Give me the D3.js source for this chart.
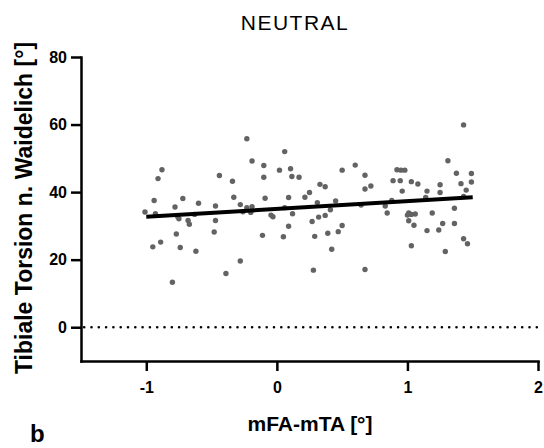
<!DOCTYPE html>
<html lang="de">
<head>
    <meta charset="UTF-8">
    <title>NEUTRAL</title>
    <script src="https://d3js.org/d3.v7.min.js"></script>
    <style>
        body { margin: 0; background: #fff; }
        svg { display: block; font-family: "Liberation Sans", Arial, sans-serif; }
        .axis path, .axis line { stroke: #000; stroke-width: 2.5; }
        .axis text { font-size: 16px; font-weight: bold; fill: #000; }
    </style>
</head>
<body>
    <svg width="544" height="448"></svg>
    <script>
        // mFA-mTA [°] values (x) and tibial torsion [°] values (y)
        const mfaMta = [
            -0.23, -0.19, -0.10, -0.10, -0.88, -0.91, -0.44, -0.34, -0.33, -0.09,
            -0.94, -0.72, -0.78, -0.60, -0.47, -0.28, -0.23, -0.19, -0.26, -0.20,
            -1.01, -0.93, -0.76, -0.75, -0.63, -0.68, -0.67, -0.47, -0.77, -0.48,
            -0.11, -0.95, -0.89, -0.74, -0.62, -0.28, -0.39, -0.80,
            0.06, 0.02, 0.105, 0.115, 0.17, 0.09, 0.215, 0.25, 0.33, 0.37,
            0.50, 0.60, 0.675, 0.675, 0.72, 0.31, 0.45, 0.06, -0.045, -0.03,
            0.12, 0.32, 0.37, 0.41, 0.27, 0.645, 0.83, 0.845, 0.88, 0.89,
            0.92, 0.09, 0.50, 0.05, 0.29, 0.39, 0.47, 0.42, 0.28, 0.675,
            1.43, 1.31, 0.95, 0.98, 0.945, 1.03, 1.08, 0.96, 1.15, 1.25,
            1.25, 1.375, 1.49, 1.41, 1.49, 1.45, 1.43, 1.14, 1.36, 1.00,
            1.03, 1.06, 1.01, 1.01, 1.05, 1.19, 1.27, 1.36, 1.15, 1.24,
            1.03, 1.29, 1.43, 1.46
        ];
        const torsion = [
            55.8, 49.2, 47.9, 44.4, 46.6, 44.0, 44.9, 43.2, 38.5, 38.2,
            37.5, 38.1, 35.6, 36.7, 35.9, 36.3, 35.4, 35.7, 34.2, 34.0,
            34.1, 33.6, 32.8, 32.1, 33.4, 31.6, 30.5, 31.6, 27.6, 28.2,
            27.2, 23.8, 25.2, 23.6, 22.5, 19.6, 15.9, 13.3,
            52.0, 46.5, 46.9, 44.6, 44.4, 38.4, 38.5, 39.9, 42.3, 41.6,
            46.5, 48.0, 45.0, 40.9, 41.8, 36.9, 37.4, 35.4, 33.2, 32.7,
            33.6, 32.6, 33.1, 34.8, 31.3, 36.2, 35.9, 33.8, 37.5, 43.4,
            46.6, 29.9, 30.1, 26.8, 26.9, 27.8, 28.3, 23.1, 16.9, 17.1,
            59.9, 49.3, 46.5, 46.5, 43.4, 43.1, 42.4, 40.3, 40.3, 42.2,
            39.9, 45.6, 45.5, 42.5, 43.0, 40.6, 38.7, 38.4, 35.2, 33.2,
            33.4, 33.5, 33.8, 31.5, 30.2, 33.8, 30.7, 30.7, 28.6, 28.8,
            24.1, 22.4, 26.2, 24.7
        ];

        // linear regression line end points
        const fitX = [-1, 1.5];
        const fitY = [32.7, 38.5];

        const xTicks = [-1, 0, 1, 2];
        const yTicks = [0, 20, 40, 60, 80];

        const margin = { top: 57, right: 6, bottom: 87, left: 81 };
        const width = 544 - margin.left - margin.right;
        const height = 448 - margin.top - margin.bottom;

        const svg = d3.select("svg");
        const g = svg.append("g")
            .attr("transform", `translate(${margin.left},${margin.top})`);

        const x = d3.scaleLinear().domain([-1.5, 2]).range([0, width]);
        const y = d3.scaleLinear().domain([-10, 80]).range([height, 0]);

        // dotted zero line
        g.append("line")
            .attr("x1", 0)
            .attr("x2", width)
            .attr("y1", y(0))
            .attr("y2", y(0))
            .attr("stroke", "#000")
            .attr("stroke-width", 2.6)
            .attr("stroke-linecap", "round")
            .attr("stroke-dasharray", "0,7.3")
            .attr("stroke-dashoffset", -10.5);

        // points
        const points = mfaMta.map((v, i) => ({ x: v, y: torsion[i] }));
        g.selectAll(".dot")
            .data(points)
          .enter().append("circle")
            .attr("class", "dot")
            .attr("cx", d => x(d.x))
            .attr("cy", d => y(d.y))
            .attr("r", 2.7)
            .attr("fill", "#636363");

        // regression line
        const line = d3.line()
            .x(d => x(d[0]))
            .y(d => y(d[1]));
        g.append("path")
            .datum(fitX.map((v, i) => [v, fitY[i]]))
            .attr("d", line)
            .attr("fill", "none")
            .attr("stroke", "#000")
            .attr("stroke-width", 4);

        // axes (plain hyphen minus as in the original)
        g.append("g")
            .attr("class", "axis")
            .attr("transform", `translate(0,${height})`)
            .call(d3.axisBottom(x).tickValues(xTicks).tickFormat(d => String(d))
                .tickSize(10).tickSizeOuter(0).tickPadding(11));

        g.append("g")
            .attr("class", "axis")
            .call(d3.axisLeft(y).tickValues(yTicks).tickFormat(d => String(d))
                .tickSize(10).tickSizeOuter(0).tickPadding(4));

        g.selectAll(".axis path").attr("stroke-linecap", "square");

        // title
        svg.append("text")
            .attr("x", 295)
            .attr("y", 30)
            .attr("text-anchor", "middle")
            .style("font-size", "21px")
            .style("letter-spacing", "1.5px")
            .text("NEUTRAL");

        // axis labels
        svg.append("text")
            .attr("x", 310)
            .attr("y", 431)
            .attr("text-anchor", "middle")
            .style("font-size", "21px")
            .style("font-weight", "bold")
            .text("mFA-mTA [°]");

        svg.append("text")
            .attr("transform", "rotate(-90)")
            .attr("x", -208)
            .attr("y", 32)
            .attr("text-anchor", "middle")
            .style("font-size", "23px")
            .style("font-weight", "bold")
            .text("Tibiale Torsion n. Waidelich [°]");

        // panel letter
        svg.append("text")
            .attr("x", 30)
            .attr("y", 442)
            .style("font-size", "24px")
            .style("font-weight", "bold")
            .text("b");
    </script>
</body>
</html>
